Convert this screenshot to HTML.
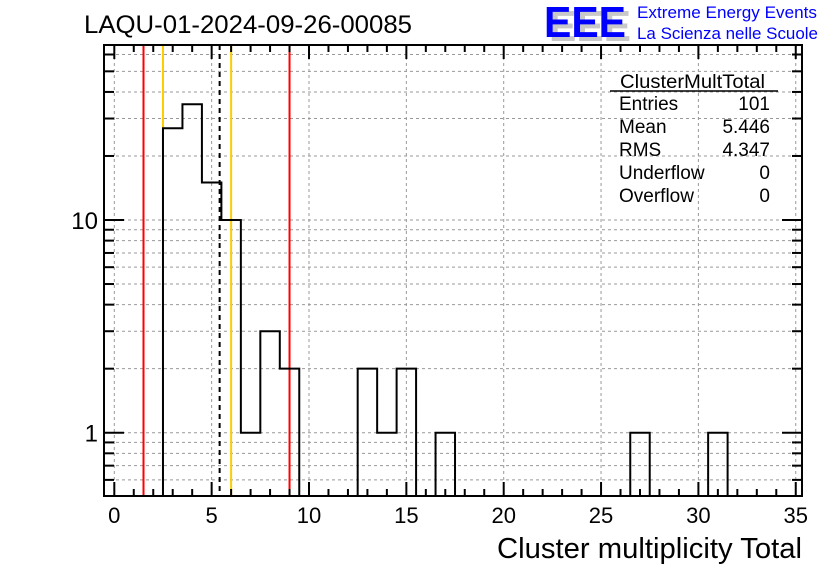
<!DOCTYPE html>
<html><head><meta charset="utf-8"><style>
body{margin:0;background:#fff;}
svg{display:block;font-family:"Liberation Sans",Arial,sans-serif;}
</style></head><body>
<svg id="chart" width="836" height="572" viewBox="0 0 836 572" xmlns="http://www.w3.org/2000/svg">
<rect width="836" height="572" fill="#fff"/>
<text x="84" y="33" font-size="25" textLength="328" lengthAdjust="spacingAndGlyphs">LAQU-01-2024-09-26-00085</text>
<g>
<text x="549" y="41" font-size="44" font-weight="bold" fill="#c8c8c8" textLength="82" lengthAdjust="spacingAndGlyphs">EEE</text>
<text x="544" y="37" font-size="44" font-weight="bold" fill="#0000ff" textLength="82" lengthAdjust="spacingAndGlyphs">EEE</text>
<text x="637" y="18" font-size="17" fill="#0000ff" textLength="180" lengthAdjust="spacingAndGlyphs">Extreme Energy Events</text>
<text x="637" y="39" font-size="17" fill="#0000ff" textLength="181" lengthAdjust="spacingAndGlyphs">La Scienza nelle Scuole</text>
</g>
<g id="grid"></g>
<g id="marks"></g>
<g id="axes"></g>
<g font-size="19">
<text x="620" y="88" textLength="145" lengthAdjust="spacingAndGlyphs">ClusterMultTotal</text>
<line x1="610" y1="91" x2="778" y2="91" stroke="#000" stroke-width="1.5"/>
<text x="619" y="110">Entries</text><text x="770" y="110" text-anchor="end">101</text>
<text x="619" y="133">Mean</text><text x="770" y="133" text-anchor="end">5.446</text>
<text x="619" y="156">RMS</text><text x="770" y="156" text-anchor="end">4.347</text>
<text x="619" y="179">Underflow</text><text x="770" y="179" text-anchor="end">0</text>
<text x="619" y="202">Overflow</text><text x="770" y="202" text-anchor="end">0</text>
</g>
<text x="802" y="558" font-size="29" text-anchor="end" textLength="305" lengthAdjust="spacingAndGlyphs">Cluster multiplicity Total</text>
</svg>
<script>
const binCenters = [3,4,5,6,7,8,9,13,14,15,17,27,31];
const binCounts = [27,35,15,10,1,3,2,2,1,2,1,1,1];
const xTicks = [0,5,10,15,20,25,30,35];
const yTickLabels = [1,10];
const redLines = [1.5,9.0];
const orangeLines = [2.5,6.0];
const meanLine = [5.41];

const NS="http://www.w3.org/2000/svg";
const L=104,R=802,T=45,B=496;
const YMIN=0.506,YMAX=66;
function sx(v){return 114.3+v*19.47;}
function sy(v){return 432.7-Math.log10(v)*212.7;}
function mk(tag,attrs,parent){const e=document.createElementNS(NS,tag);for(const k in attrs)e.setAttribute(k,attrs[k]);parent.appendChild(e);return e;}
const grid=document.getElementById('grid'),marks=document.getElementById('marks'),axes=document.getElementById('axes');
for(const t of xTicks){const x=sx(t);if(x>L&&x<R){const g=mk('line',{x1:x,y1:T,x2:x,y2:B,stroke:'#999','stroke-dasharray':'3,3','stroke-width':1},grid);

}}
const yMinor=[];
for(const d of [0.1,1,10]){for(let m=1;m<10;m++){const v=m*d;if(v>=YMIN&&v<=YMAX)yMinor.push(v);}}
for(const v of yMinor){const y=sy(v);const g=mk('line',{x1:L,y1:y,x2:R,y2:y,stroke:'#999','stroke-dasharray':'3,3','stroke-width':1},grid);

}
function vline(v,col,dash,name){const x=sx(v);const l=mk('line',{x1:x,y1:T,x2:x,y2:B,stroke:col,'stroke-width':2},marks);if(dash)l.setAttribute('stroke-dasharray',dash);

}
redLines.forEach(v=>vline(v,'#ff0000',null,'red-limit-line'));
orangeLines.forEach(v=>vline(v,'#ffcc00',null,'orange-limit-line'));
meanLine.forEach(v=>vline(v,'#000',"5,4",'mean-line'));
let counts={};binCenters.forEach((c,i)=>counts[c]=binCounts[i]);
let d='';let first=true;
for(let b=0;b<=35;b++){const v=counts[b]||0;const y=v>0?sy(v):B;const x0=sx(b-0.5),x1=sx(b+0.5);
 d+=(first?'M':'L')+x0+','+y;first=false;d+='L'+Math.min(x1,R)+','+y;}
const h=mk('path',{d:d,fill:'none',stroke:'#000','stroke-width':2},marks);


const fr=mk('rect',{x:L,y:T,width:R-L,height:B-T,fill:'none',stroke:'#000','stroke-width':2},axes);


for(let v=0;v<=35;v++){const x=sx(v);const len=v%5===0?14:7;
 mk('line',{x1:x,y1:B,x2:x,y2:B-len,stroke:'#000','stroke-width':2},axes);
 mk('line',{x1:x,y1:T,x2:x,y2:T+len,stroke:'#000','stroke-width':2},axes);}
for(const t of xTicks){const tx=mk('text',{x:sx(t),y:523,'font-size':22,'text-anchor':'middle'},axes);tx.textContent=t;

}
for(const v of yMinor){const y=sy(v);const major=yTickLabels.includes(v);const len=major?20:10;
 mk('line',{x1:L,y1:y,x2:L+len,y2:y,stroke:'#000','stroke-width':2},axes);
 mk('line',{x1:R,y1:y,x2:R-len,y2:y,stroke:'#000','stroke-width':2},axes);}
for(const t of yTickLabels){const tx=mk('text',{x:98,y:sy(t)+9,'font-size':24,'text-anchor':'end'},axes);tx.textContent=t;

}
</script>
</body></html>
